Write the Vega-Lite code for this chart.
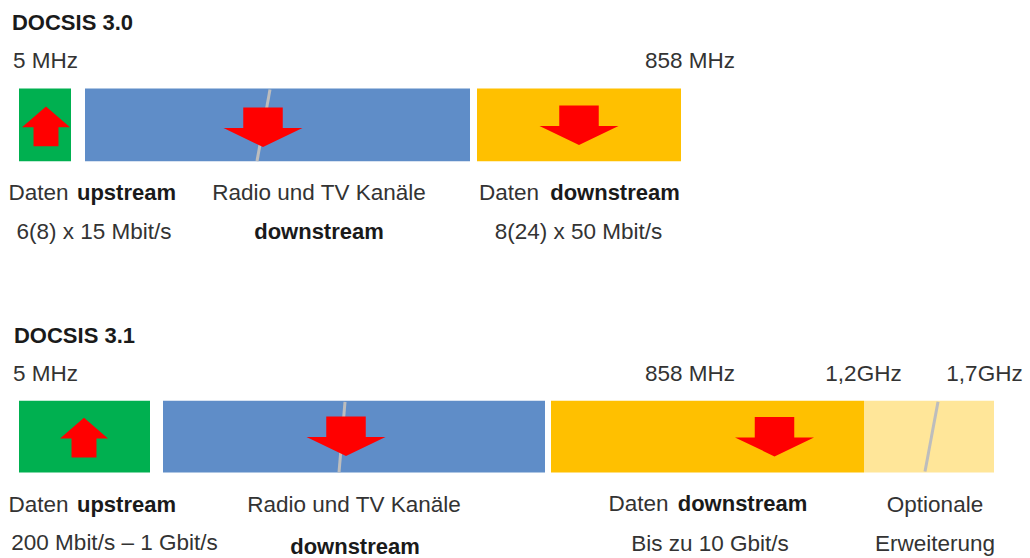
{
  "$schema": "https://vega.github.io/schema/vega-lite/v6.json",
  "width": 1030,
  "height": 558,
  "padding": 0,
  "autosize": {"type": "fit", "contains": "padding"},
  "background": "white",
  "config": {"view": {"stroke": null}},
  "datasets": {
    "bars": [
      {"row": "DOCSIS 3.0", "band": "upstream", "x0": 19, "x1": 71, "y0": 89, "y1": 162},
      {"row": "DOCSIS 3.0", "band": "tv", "x0": 85, "x1": 470, "y0": 89, "y1": 162},
      {"row": "DOCSIS 3.0", "band": "downstream", "x0": 477, "x1": 681, "y0": 89, "y1": 162},
      {"row": "DOCSIS 3.1", "band": "upstream", "x0": 19, "x1": 150, "y0": 403, "y1": 475},
      {"row": "DOCSIS 3.1", "band": "tv", "x0": 163, "x1": 545, "y0": 403, "y1": 475},
      {"row": "DOCSIS 3.1", "band": "downstream", "x0": 551, "x1": 864, "y0": 403, "y1": 475},
      {"row": "DOCSIS 3.1", "band": "optional", "x0": 864, "x1": 994, "y0": 403, "y1": 475}
    ],
    "breaks": [
      {"row": "DOCSIS 3.0", "x0": 270, "x1": 257, "y0": 90, "y1": 162},
      {"row": "DOCSIS 3.1", "x0": 345, "x1": 339, "y0": 404, "y1": 475},
      {"row": "DOCSIS 3.1", "x0": 938, "x1": 925, "y0": 404, "y1": 474}
    ],
    "arrows": [
      {"row": "DOCSIS 3.0", "dir": "up", "x": 46, "y": 127},
      {"row": "DOCSIS 3.0", "dir": "down", "x": 263, "y": 128},
      {"row": "DOCSIS 3.0", "dir": "down", "x": 579, "y": 126},
      {"row": "DOCSIS 3.1", "dir": "up", "x": 84, "y": 440},
      {"row": "DOCSIS 3.1", "dir": "down", "x": 346, "y": 438.5},
      {"row": "DOCSIS 3.1", "dir": "down", "x": 774.5, "y": 439}
    ],
    "labels": [
      {"text": "DOCSIS 3.0", "role": "title", "x": 72.5, "y": 30},
      {"text": "5 MHz", "role": "normal", "x": 45.5, "y": 68},
      {"text": "858 MHz", "role": "normal", "x": 690, "y": 68},
      {"text": "Daten", "role": "normal", "x": 38.5, "y": 201},
      {"text": "upstream", "role": "bold", "x": 126.5, "y": 201},
      {"text": "Radio und TV Kanäle", "role": "normal", "x": 319, "y": 201},
      {"text": "Daten", "role": "normal", "x": 509, "y": 201},
      {"text": "downstream", "role": "bold", "x": 615, "y": 201},
      {"text": "6(8) x 15 Mbit/s", "role": "normal", "x": 94, "y": 240},
      {"text": "downstream", "role": "bold", "x": 319, "y": 240},
      {"text": "8(24) x 50 Mbit/s", "role": "normal", "x": 578.5, "y": 240},
      {"text": "DOCSIS 3.1", "role": "title", "x": 74.5, "y": 345},
      {"text": "5 MHz", "role": "normal", "x": 45.5, "y": 383},
      {"text": "858 MHz", "role": "normal", "x": 690, "y": 383},
      {"text": "1,2GHz", "role": "normal", "x": 863.5, "y": 383},
      {"text": "1,7GHz", "role": "normal", "x": 984.5, "y": 383},
      {"text": "Daten", "role": "normal", "x": 38.5, "y": 515},
      {"text": "upstream", "role": "bold", "x": 126.5, "y": 515},
      {"text": "Radio und TV Kanäle", "role": "normal", "x": 354, "y": 515},
      {"text": "Daten", "role": "normal", "x": 638.5, "y": 514},
      {"text": "downstream", "role": "bold", "x": 742.5, "y": 514},
      {"text": "Optionale", "role": "normal", "x": 935, "y": 515},
      {"text": "200 Mbit/s – 1 Gbit/s", "role": "normal", "x": 114.5, "y": 553},
      {"text": "downstream", "role": "bold", "x": 355, "y": 557},
      {"text": "Bis zu 10 Gbit/s", "role": "normal", "x": 710, "y": 554},
      {"text": "Erweiterung", "role": "normal", "x": 935, "y": 554}
    ]
  },
  "layer": [
    {
      "data": {"name": "bars"},
      "mark": {"type": "rect"},
      "encoding": {
        "x": {"field": "x0", "type": "quantitative", "scale": {"domain": [0, 1030], "nice": false, "zero": false}, "axis": null},
        "x2": {"field": "x1"},
        "y": {"field": "y0", "type": "quantitative", "scale": {"domain": [0, 558], "nice": false, "zero": false, "reverse": true}, "axis": null},
        "y2": {"field": "y1"},
        "color": {"field": "band", "type": "nominal", "legend": null,
          "scale": {"domain": ["upstream", "tv", "downstream", "optional"], "range": ["#00B050", "#5F8DC8", "#FFC000", "#FFE699"]}}
      }
    },
    {
      "data": {"name": "breaks"},
      "mark": {"type": "rule", "color": "#BDBDBD", "strokeWidth": 3},
      "encoding": {
        "x": {"field": "x0", "type": "quantitative", "scale": {"domain": [0, 1030], "nice": false, "zero": false}, "axis": null},
        "x2": {"field": "x1"},
        "y": {"field": "y0", "type": "quantitative", "scale": {"domain": [0, 558], "nice": false, "zero": false, "reverse": true}, "axis": null},
        "y2": {"field": "y1"}
      }
    },
    {
      "data": {"name": "arrows"},
      "transform": [{"filter": "datum.dir === 'up'"}],
      "mark": {"type": "point", "filled": true, "color": "#FF0000", "opacity": 1, "strokeWidth": 0, "size": 2304,
        "shape": "M 0 -0.83 L 1 0.04 L 0.52 0.04 L 0.52 0.83 L -0.52 0.83 L -0.52 0.04 L -1 0.04 Z"},
      "encoding": {
        "x": {"field": "x", "type": "quantitative", "scale": {"domain": [0, 1030], "nice": false, "zero": false}, "axis": null},
        "y": {"field": "y", "type": "quantitative", "scale": {"domain": [0, 558], "nice": false, "zero": false, "reverse": true}, "axis": null}
      }
    },
    {
      "data": {"name": "arrows"},
      "transform": [{"filter": "datum.dir === 'down'"}],
      "mark": {"type": "point", "filled": true, "color": "#FF0000", "opacity": 1, "strokeWidth": 0, "size": 6241,
        "shape": "M -0.5 -0.5 L 0.5 -0.5 L 0.5 0.02 L 1 0.02 L 0 0.5 L -1 0.02 L -0.5 0.02 Z"},
      "encoding": {
        "x": {"field": "x", "type": "quantitative", "scale": {"domain": [0, 1030], "nice": false, "zero": false}, "axis": null},
        "y": {"field": "y", "type": "quantitative", "scale": {"domain": [0, 558], "nice": false, "zero": false, "reverse": true}, "axis": null}
      }
    },
    {
      "data": {"name": "labels"},
      "transform": [{"filter": "datum.role === 'normal'"}],
      "mark": {"type": "text", "font": "Liberation Sans", "fontSize": 22.5, "color": "#333333", "align": "center", "baseline": "alphabetic"},
      "encoding": {
        "x": {"field": "x", "type": "quantitative", "scale": {"domain": [0, 1030], "nice": false, "zero": false}, "axis": null},
        "y": {"field": "y", "type": "quantitative", "scale": {"domain": [0, 558], "nice": false, "zero": false, "reverse": true}, "axis": null},
        "text": {"field": "text", "type": "nominal"}
      }
    },
    {
      "data": {"name": "labels"},
      "transform": [{"filter": "datum.role === 'bold' || datum.role === 'title'"}],
      "mark": {"type": "text", "font": "Liberation Sans", "fontSize": 22, "fontWeight": "bold", "color": "#1A1A1A", "align": "center", "baseline": "alphabetic"},
      "encoding": {
        "x": {"field": "x", "type": "quantitative", "scale": {"domain": [0, 1030], "nice": false, "zero": false}, "axis": null},
        "y": {"field": "y", "type": "quantitative", "scale": {"domain": [0, 558], "nice": false, "zero": false, "reverse": true}, "axis": null},
        "text": {"field": "text", "type": "nominal"}
      }
    }
  ]
}
